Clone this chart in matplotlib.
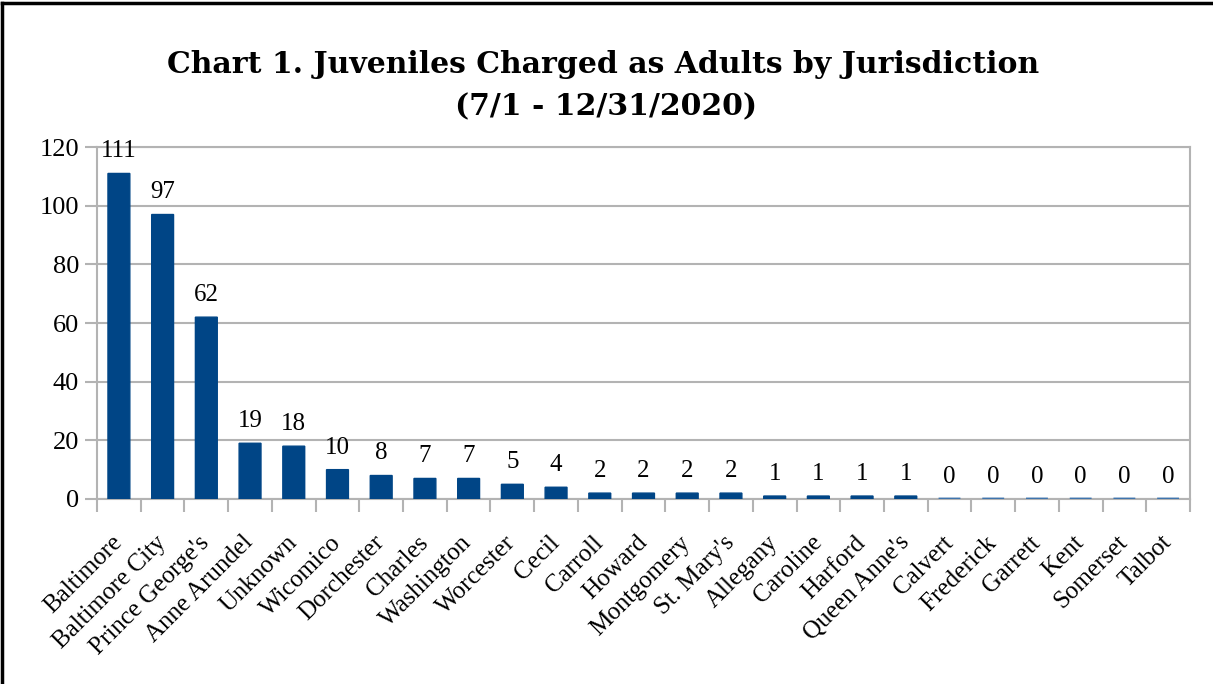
import matplotlib

matplotlib.use("Agg")
import matplotlib.pyplot as plt
from matplotlib.lines import Line2D
from matplotlib.ticker import FixedLocator

jurisdictions = [
    "Baltimore", "Baltimore City", "Prince George's", "Anne Arundel", "Unknown",
    "Wicomico", "Dorchester", "Charles", "Washington", "Worcester", "Cecil",
    "Carroll", "Howard", "Montgomery", "St. Mary's", "Allegany", "Caroline",
    "Harford", "Queen Anne's", "Calvert", "Frederick", "Garrett", "Kent",
    "Somerset", "Talbot",
]
counts = [111, 97, 62, 19, 18, 10, 8, 7, 7, 5, 4, 2, 2, 2, 2, 1, 1, 1, 1, 0, 0, 0, 0, 0, 0]
y_ticks = [0, 20, 40, 60, 80, 100, 120]

title_line1 = "Chart 1. Juveniles Charged as Adults by Jurisdiction"
title_line2 = "(7/1 - 12/31/2020)"

bar_color = "#004586"
grid_color = "#b3b3b3"
serif = ["Liberation Serif", "DejaVu Serif"]

fig = plt.figure(figsize=(12.13, 6.84), dpi=100)
ax = fig.add_axes([0.080, 0.2705, 0.901, 0.5145])

x = list(range(len(jurisdictions)))
bars = ax.bar(x, counts, width=0.5, color=bar_color, edgecolor=bar_color,
              linewidth=1, zorder=3)
# zero-valued bars still show as a thin line at the baseline
for b, c in zip(bars, counts):
    b.set_snap(False)
    if c == 0:
        b.set_edgecolor("#3f74ad")
        b.set_linewidth(2)

for xi, c in zip(x, counts):
    ax.annotate(str(c), (xi, c), xytext=(0, 8), textcoords="offset points",
                ha="center", va="bottom", fontsize=18, family=serif, color="black")

ax.set_xlim(-0.5, len(jurisdictions) - 0.5)
ax.set_ylim(0, 120)
ax.yaxis.set_major_locator(FixedLocator(y_ticks))
ax.set_yticklabels([str(v) for v in y_ticks], fontsize=19, family=serif)

ax.set_xticks(x)
ax.set_xticklabels(jurisdictions, rotation=45, ha="right", va="center",
                   rotation_mode="anchor", fontsize=18, family=serif)
ax.xaxis.set_minor_locator(FixedLocator([i - 0.5 for i in range(len(jurisdictions) + 1)]))
ax.tick_params(axis="x", which="major", length=0, pad=29)
ax.tick_params(axis="x", which="minor", length=9, width=1.5, color=grid_color)
ax.tick_params(axis="y", length=9, width=1.5, color=grid_color, pad=4)

ax.grid(axis="y", color=grid_color, linewidth=1.5, zorder=0)
for s in ax.spines.values():
    s.set_color(grid_color)
    s.set_linewidth(1.5)

fig.text(0.497, 0.893, title_line1, ha="center", va="baseline", fontsize=21.5,
         fontweight="bold", family=["DejaVu Serif"])
fig.text(0.5, 0.831, title_line2, ha="center", va="baseline", fontsize=21.5,
         fontweight="bold", family=["DejaVu Serif"])

# frame on the top and left edge
fig.add_artist(Line2D([0.002, 0.002], [0, 0.996], transform=fig.transFigure, color="black", lw=2.5))
fig.add_artist(Line2D([0.002, 1], [0.996, 0.996], transform=fig.transFigure, color="black", lw=2.5))

fig.savefig("out.png", dpi=100)
